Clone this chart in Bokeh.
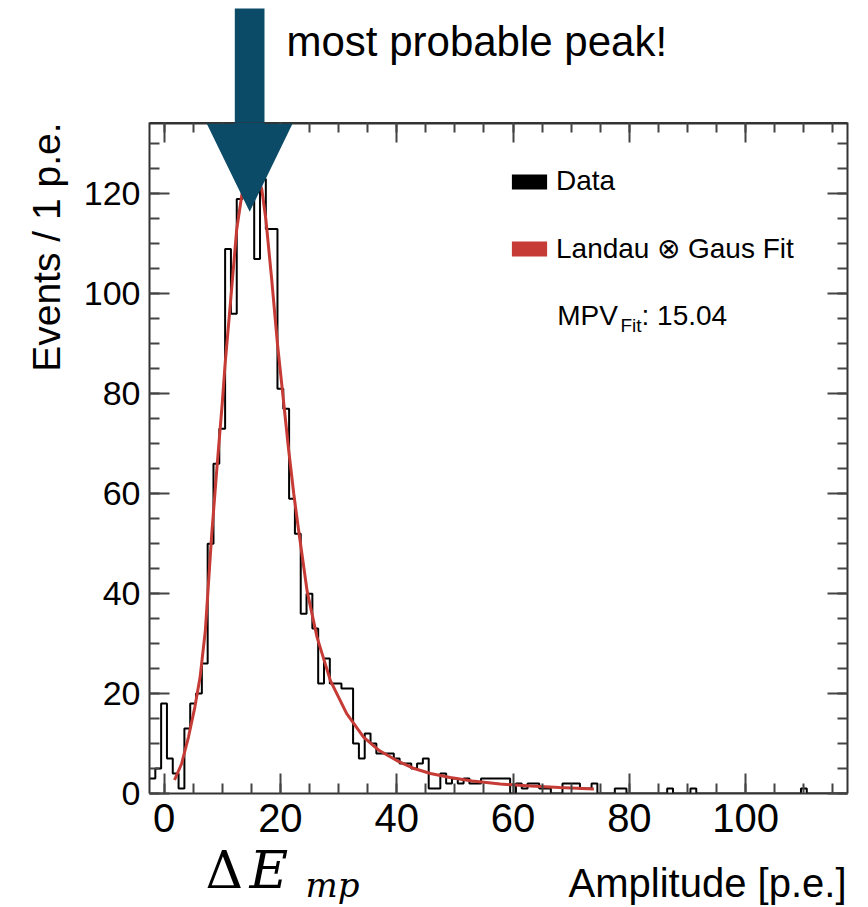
from bokeh.plotting import figure
from bokeh.layouts import column
from bokeh.models import (Range1d, LinearAxis, FixedTicker, Label, PolyAnnotation,
                          Legend, LegendItem, Title)
from bokeh.embed import file_html
from bokeh.resources import INLINE

# ---------------- data ----------------
bin_centers = list(range(-2, 118))          # 1 p.e. bins
counts = [
    3, 5, 18, 7, 4, 1, 13, 18, 20, 26,       # -2 .. 7
    50, 66, 73, 109, 96, 119, 126, 128, 107, 123,   # 8 .. 17
    113, 113, 81, 77, 59, 52, 36, 40, 33, 22,       # 18 .. 27
    27, 22, 22, 21, 21, 10, 7, 12, 10, 8,           # 28 .. 37
    8, 8, 7, 6, 6, 5, 6, 7, 1, 1,                   # 38 .. 47
    4, 2, 3, 2, 3, 2, 2, 3, 3, 3,                   # 48 .. 57
    3, 3, 0, 2, 1, 2, 2, 1, 1, 0,                   # 58 .. 67
    0, 2, 2, 2, 1, 1, 2, 0, 0, 0,                   # 68 .. 77
    1, 1, 0, 0, 0, 0, 0, 0, 0, 1,                   # 78 .. 87
    0, 0, 0, 1, 0, 0, 0, 0, 0, 0,                   # 88 .. 97
    0, 0, 0, 0, 0, 0, 0, 0, 0, 0,                   # 98 .. 107
    0, 0, 1, 0, 0, 0, 0, 0, 0, 0,                   # 108 .. 117
]
fit_x = [1.8, 3.0, 4.2, 5.3, 6.2, 7.1, 8.2, 9.1, 10.0, 10.5, 11.4, 12.5, 13.4,
         14.2, 15.0, 15.8, 16.8, 17.5, 18.5, 19.5, 20.5, 21.4, 22.3, 23.1, 24.6,
         26.3, 28.6, 31.4, 34.3, 37.0, 40.0, 43.0, 45.8, 49.2, 53.0, 57.8, 63.0,
         68.0, 73.9]
fit_y = [2.7, 5.9, 11.3, 17.3, 23.3, 32.6, 51.9, 65.3, 78.0, 86.0, 98.0, 113.0, 120.0,
         123.5, 124.5, 124.0, 121.0, 115.0, 103.0, 90.0, 79.0, 69.0, 60.0, 53.0, 40.5,
         31.3, 22.6, 16.0, 11.3, 8.6, 6.6, 5.0, 4.0, 3.2, 2.5, 1.9, 1.5,
         1.2, 0.9]
x_tick_values = [0, 20, 40, 60, 80, 100]
y_tick_values = [0, 20, 40, 60, 80, 100, 120]
x_minor_values = list(range(0, 120, 5))
y_minor_values = list(range(0, 135, 5))
mpv_fit = "15.04"

# ---------------- geometry (page pixels) ----------------
X_MIN, X_MAX = -2.5, 117.5
Y_MIN, Y_MAX = 0.0, 134.3
F_LEFT, F_RIGHT, F_TOP, F_BOTTOM = 149, 847, 122, 793
PX = (F_RIGHT - F_LEFT) / (X_MAX - X_MIN)
PY = (F_BOTTOM - F_TOP) / (Y_MAX - Y_MIN)
PAGE_W, PAGE_H = 868, 907
MAIN_BOTTOM = 57
MAIN_END = F_BOTTOM + MAIN_BOTTOM
BOT_TOP = 815                      # bottom strip overlaps the tick-label band
BASE_SHIFT = 0.37   # label anchor sits this many em above the drawn baseline


def dx(X):
    return X_MIN + (X - F_LEFT) / PX


def dy(Y):
    return Y_MIN + (F_BOTTOM - Y) / PY


FONT = "Liberation Sans"
SERIF = "DejaVu Serif"
RED = "#c63b36"
ARROW = "#0b4b68"
AX = "#333333"

arrow_px = [(234.3, 8), (234.3, 123.3), (206.3, 123.3), (249.2, 211.3),
            (292.0, 123.3), (264.0, 123.3), (264.0, 8)]


def add_arrow(fig):
    fig.add_layout(PolyAnnotation(xs=[dx(a) for a, _ in arrow_px],
                                  ys=[dy(b) for _, b in arrow_px],
                                  fill_color=ARROW, fill_alpha=1.0,
                                  line_color=None))


def txt(X, Y, s, size, **kw):
    """Label whose alphabetic baseline is drawn at page pixel (X, Y)."""
    kw.setdefault("text_font", FONT)
    return Label(x=dx(X), y=dy(Y - BASE_SHIFT * size), text=s,
                 text_font_size=f"{size}px", text_baseline="alphabetic",
                 text_color="black", **kw)


x_range = Range1d(X_MIN, X_MAX)


def strip(h, top_px, bottom_px, **kw):
    f = figure(width=PAGE_W, height=h, output_backend="svg", toolbar_location=None,
               x_range=x_range, y_range=Range1d(dy(bottom_px), dy(top_px)),
               x_axis_location=None, y_axis_location=None,
               min_border_left=F_LEFT, min_border_right=PAGE_W - F_RIGHT,
               min_border_top=0, min_border_bottom=0, **kw)
    f.grid.visible = False
    f.outline_line_color = None
    return f


# ---------------- main plot ----------------
p = figure(width=PAGE_W, height=MAIN_END - F_TOP, output_backend="svg",
           toolbar_location=None, x_range=x_range, y_range=Range1d(Y_MIN, Y_MAX),
           min_border_left=F_LEFT, min_border_right=PAGE_W - F_RIGHT,
           min_border_top=0, min_border_bottom=MAIN_BOTTOM,
           x_axis_location=None, y_axis_location=None)
p.grid.visible = False
p.outline_line_color = None
p.background_fill_color = "white"
p.border_fill_color = "white"


def make_axis(ticker, labels, size="34px", standoff=9, lw=2):
    ax = LinearAxis(ticker=ticker)
    ax.axis_line_color = AX
    ax.axis_line_width = lw
    ax.major_tick_line_color = "#444444"
    ax.minor_tick_line_color = "#444444"
    ax.major_tick_line_width = 2
    ax.minor_tick_line_width = 2
    ax.major_tick_in = 20
    ax.major_tick_out = 0
    ax.minor_tick_in = 10
    ax.minor_tick_out = 0
    if labels:
        ax.major_label_text_font = FONT
        ax.major_label_text_font_size = size
        ax.major_label_text_color = "black"
        ax.major_label_standoff = standoff
    else:
        ax.major_label_text_font_size = "0px"
        ax.major_label_text_color = None
        ax.major_label_standoff = 0
    return ax


xt = FixedTicker(ticks=x_tick_values, minor_ticks=x_minor_values)
yt = FixedTicker(ticks=y_tick_values, minor_ticks=y_minor_values)
p.add_layout(make_axis(xt, True, "40px", 10), "below")
p.add_layout(make_axis(yt, True, "34px", 9), "left")
p.add_layout(make_axis(xt, False, lw=4), "above")
p.add_layout(make_axis(yt, False), "right")

# y axis title, ROOT style: at the top end of the axis
p.add_layout(Title(text="Events / 1 p.e.", align="right", vertical_align="bottom",
                   standoff=25, offset=0, text_font=FONT, text_font_size="39px",
                   text_font_style="normal", text_color="black"), "left")

# histogram outline
edges = [c - 0.5 for c in bin_centers] + [bin_centers[-1] + 0.5]
step_y = counts + [counts[-1]]
p.step(edges, step_y, mode="after", line_color="black", line_width=2)

# fit curve
p.line(fit_x, fit_y, line_color=RED, line_width=3)

# legend swatches (filled boxes, as in the original legend)
sw_data = p.quad(left=[c - 0.5 for c in bin_centers], right=[c + 0.5 for c in bin_centers],
                 top=counts, bottom=0, fill_color="black", line_color=None, visible=False)
sw_fit = p.varea(x=fit_x, y1=0, y2=fit_y, fill_color=RED, visible=False)
legend = Legend(items=[LegendItem(label="Data", renderers=[sw_data]),
                       LegendItem(label="Landau \u2297 Gaus Fit", renderers=[sw_fit])],
                location=(358, 528), glyph_width=44, glyph_height=19,
                label_standoff=5, spacing=33, padding=0, margin=0,
                label_height=34, label_text_font=FONT, label_text_font_size="28px",
                label_text_color="black", border_line_color=None,
                background_fill_alpha=0, inactive_fill_alpha=0)
p.add_layout(legend)

# MPV text
p.add_layout(txt(556.7, 325, "MPV", 28))
p.add_layout(txt(620.0, 332, "Fit", 19))
p.add_layout(txt(641.0, 325, ": " + mpv_fit, 28))

add_arrow(p)

# ---------------- strips above and below the plot ----------------
top = strip(F_TOP, 0, F_TOP)
top.background_fill_color = "white"
top.border_fill_color = "white"
add_arrow(top)
top.add_layout(txt(286, 57, "most probable peak!", 42))

# transparent strip laid over the lower edge of the main plot
bottom = strip(PAGE_H - BOT_TOP, BOT_TOP, PAGE_H,
               margin=(BOT_TOP - MAIN_END, 0, 0, 0))
bottom.background_fill_color = None
bottom.border_fill_color = None
bottom.add_layout(txt(846, 897, "Amplitude [p.e.]", 40, text_align="right"))
bottom.add_layout(txt(205, 889, "\u0394", 52, text_font=SERIF))
bottom.add_layout(txt(249, 889, "E", 53, text_font=SERIF, text_font_style="italic"))
bottom.add_layout(txt(305, 897, "mp", 34, text_font=SERIF, text_font_style="italic"))

layout = column(top, p, bottom, spacing=0)

open("out.html", "w").write(file_html(layout, INLINE))
